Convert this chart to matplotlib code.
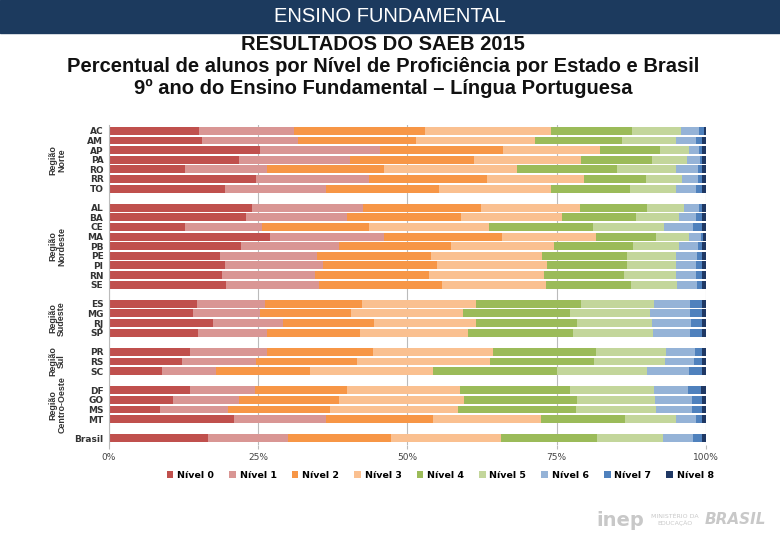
import numpy as np
import matplotlib
matplotlib.use("Agg")
import matplotlib.pyplot as plt
from matplotlib.patches import Rectangle

plt.rcParams['font.family'] = ['DejaVu Sans']

# --- data (percent of students per proficiency level) ---
states = ["AC", "AM", "AP", "PA", "RO", "RR", "TO",
          "AL", "BA", "CE", "MA", "PB", "PE", "PI", "RN", "SE",
          "ES", "MG", "RJ", "SP",
          "PR", "RS", "SC",
          "DF", "GO", "MS", "MT",
          "Brasil"]
slots = [0, 1, 2, 3, 4, 5, 6,
         8, 9, 10, 11, 12, 13, 14, 15, 16,
         18, 19, 20, 21,
         23, 24, 25,
         27, 28, 29, 30,
         32]
regions = ["Região\nNorte", "Região\nNordeste", "Região\nSudeste",
           "Região\nSul", "Região\nCentro-Oeste"]
region_rows = [(0, 6), (8, 16), (18, 21), (23, 25), (27, 30)]

nivel0 = [15.0, 15.6, 25.3, 21.8, 12.7, 24.6, 19.4, 24.0, 22.9, 12.7, 27.0, 22.1, 18.6, 19.5, 19.0, 19.6,
          14.7, 14.1, 17.5, 14.9, 13.6, 12.2, 8.8, 13.5, 10.8, 8.5, 20.9, 16.5]
nivel1 = [16.0, 16.0, 20.1, 18.5, 13.7, 19.0, 16.9, 18.5, 17.0, 12.9, 19.1, 16.4, 16.2, 16.4, 15.5, 15.6,
          11.5, 11.2, 11.6, 11.5, 12.8, 12.4, 9.1, 11.0, 11.0, 11.4, 15.4, 13.4]
nivel2 = [21.9, 19.8, 20.6, 20.8, 19.7, 19.8, 19.0, 19.8, 19.0, 18.0, 19.7, 18.8, 19.2, 19.1, 19.1, 20.5,
          16.2, 15.3, 15.3, 15.7, 17.9, 16.9, 15.7, 15.3, 16.8, 17.1, 17.9, 17.3]
nivel3 = [21.1, 20.0, 16.3, 18.0, 22.3, 16.2, 18.7, 16.6, 17.0, 20.1, 15.8, 17.2, 18.6, 18.3, 19.2, 17.5,
          19.1, 18.7, 17.1, 18.0, 20.0, 22.3, 20.6, 19.0, 20.9, 21.5, 18.1, 18.5]
nivel4 = [13.6, 14.5, 10.0, 11.8, 16.7, 10.3, 13.3, 11.2, 12.4, 17.3, 10.0, 13.3, 14.2, 13.5, 13.5, 14.2,
          17.5, 17.9, 16.9, 17.7, 17.3, 17.5, 20.8, 18.5, 18.9, 19.8, 14.1, 16.1]
nivel5 = [8.2, 9.0, 4.9, 6.0, 9.9, 6.1, 7.6, 6.2, 7.2, 12.0, 5.6, 7.6, 8.2, 8.1, 8.6, 7.8,
          12.3, 13.5, 12.6, 13.4, 11.7, 11.9, 15.2, 14.0, 13.1, 13.4, 8.6, 11.0]
nivel6 = [3.0, 3.5, 1.7, 2.1, 3.7, 2.7, 3.5, 2.5, 2.9, 4.8, 1.9, 3.3, 3.5, 3.5, 3.5, 3.3,
          6.0, 6.6, 6.5, 6.2, 4.9, 4.8, 7.0, 5.7, 6.1, 6.0, 3.4, 5.1]
nivel7 = [0.8, 0.9, 0.5, 0.4, 0.7, 0.7, 0.9, 0.6, 0.9, 1.5, 0.4, 0.7, 0.8, 0.9, 0.9, 0.9,
          2.0, 2.0, 1.8, 1.9, 1.2, 1.3, 2.1, 2.2, 1.7, 1.6, 0.9, 1.4]
nivel8 = [0.4, 0.7, 0.6, 0.6, 0.6, 0.6, 0.7, 0.6, 0.7, 0.7, 0.5, 0.6, 0.7, 0.7, 0.7, 0.6,
          0.7, 0.7, 0.7, 0.7, 0.6, 0.7, 0.7, 0.8, 0.7, 0.7, 0.7, 0.7]

levels = [nivel0, nivel1, nivel2, nivel3, nivel4, nivel5, nivel6, nivel7, nivel8]
level_names = ["Nível 0", "Nível 1", "Nível 2", "Nível 3", "Nível 4",
               "Nível 5", "Nível 6", "Nível 7", "Nível 8"]
colors = ["#C0504D", "#D99694", "#F79646", "#FAC090", "#9BBB59",
          "#C3D69B", "#95B3D7", "#4F81BD", "#1F3864"]

fig = plt.figure(figsize=(7.8, 5.4), dpi=100)

# header band
fig.patches.append(Rectangle((0, 1 - 33 / 540), 1, 33 / 540, transform=fig.transFigure,
                             color="#1C3A5E", zorder=0))
fig.text(0.5, 1 - 16 / 540, "ENSINO FUNDAMENTAL", color="white", fontsize=14.5,
         ha="center", va="center", family="Liberation Sans")

tfont = dict(fontsize=14.5, fontweight="bold", ha="center", va="center",
             family="Liberation Sans", color="#111111")
fig.text(0.491, 1 - 45 / 540, "RESULTADOS DO SAEB 2015", **tfont)
fig.text(0.491, 1 - 66 / 540, "Percentual de alunos por Nível de Proficiência por Estado e Brasil", **tfont)
fig.text(0.491, 1 - 88 / 540, "9º ano do Ensino Fundamental – Língua Portuguesa", **tfont)

ax = fig.add_axes([109 / 780, 1 - 445 / 540, (706 - 109) / 780, (445 - 125) / 540])

left = np.zeros(len(states))
for vals, name, c in zip(levels, level_names, colors):
    vals = np.array(vals)
    ax.barh(slots, vals, left=left, height=0.82, color=c, label=name, zorder=2)
    left += vals

ax.set_xlim(0, 100)
ax.set_ylim(32.7, -0.62)
ax.set_xticks([0, 25, 50, 75, 100])
ax.set_xticklabels(["0%", "25%", "50%", "75%", "100%"], fontsize=6.5, color="#444444")
ax.xaxis.grid(True, color="#BBBBBB", linewidth=0.8, zorder=0)
ax.set_yticks(slots)
ax.set_yticklabels(states, fontsize=6.5, fontweight="bold", color="#333333")
ax.tick_params(axis="y", length=0, pad=4)
ax.tick_params(axis="x", length=3, color="#BBBBBB", pad=3)
for s in ["top", "right", "bottom"]:
    ax.spines[s].set_visible(False)
ax.spines["left"].set_color("#BBBBBB")

for name, (a, b) in zip(regions, region_rows):
    ax.text(-8.7, (a + b) / 2, name, rotation=90, ha="center", va="center",
            fontsize=6.4, fontweight="bold", color="#333333", linespacing=1.05,
            family="Liberation Sans")

ax.legend(loc="upper center", bbox_to_anchor=(0.555, -0.055), ncol=9, frameon=False,
          handlelength=0.7, handleheight=0.7, handletextpad=0.4,
          columnspacing=1.6, prop={"weight": "bold", "size": 6.8})

# footer logos approximated as faint text
fig.text(620 / 780, 1 - 520 / 540, "inep", fontsize=14, fontweight="bold",
         color="#C8C8C8", ha="center", va="center")
fig.text(675 / 780, 1 - 520 / 540, "MINISTÉRIO DA\nEDUCAÇÃO", fontsize=4.5,
         color="#C8C8C8", ha="center", va="center")
fig.text(735 / 780, 1 - 520 / 540, "BRASIL", fontsize=11, fontweight="bold", style="italic",
         color="#C8C8C8", ha="center", va="center")

fig.savefig("out.png", dpi=100)
